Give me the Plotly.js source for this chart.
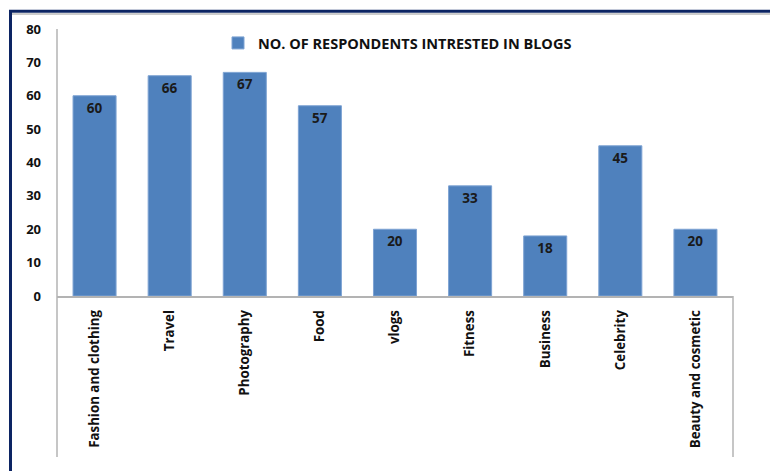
<!DOCTYPE html>
<html>
<head>
<meta charset="utf-8">
<script src="https://cdn.plot.ly/plotly-3.0.1.min.js"></script>
<style>
html,body{margin:0;padding:0;background:#fff;}
#chart{width:770px;height:471px;}
</style>
</head>
<body>
<div id="chart"></div>
<script>
const categories = ["Fashion and clothing","Travel","Photography","Food","vlogs","Fitness","Business","Celebrity","Beauty and cosmetic"];
const respondents = [60,66,67,57,20,33,18,45,20];
const seriesName = "NO. OF RESPONDENTS INTRESTED IN BLOGS";
const yTicks = [0,10,20,30,40,50,60,70,80];

const FONT = "'Open Sans', Lato, sans-serif";
const L = 57, R = 37, T = 29, B = 175, W = 770, H = 471;
const pw = W - L - R, ph = H - T - B;
const px = x => (x - L) / pw;
const py = y => (H - B - y) / ph;

const trace = {
  type: "bar",
  x: categories,
  y: respondents,
  name: seriesName,
  marker: {color: "#4f81bd", line: {color: "#7ea3d3", width: 1}},
  text: respondents.map(String),
  textposition: "inside",
  insidetextanchor: "end",
  textangle: 0,
  constraintext: "none",
  textfont: {family: FONT, size: 13.5, color: "#1a1a1a", weight: "bold"},
  hoverinfo: "x+y",
  showlegend: true
};

const layout = {
  width: W, height: H,
  margin: {l: L, r: R, t: T, b: B, pad: 0},
  paper_bgcolor: "#ffffff",
  plot_bgcolor: "#ffffff",
  font: {family: FONT, size: 13, color: "#111111", weight: "bold"},
  bargap: 0.427,
  showlegend: true,
  legend: {
    orientation: "h",
    x: px(218), xanchor: "left",
    y: py(43), yanchor: "middle",
    bgcolor: "rgba(0,0,0,0)",
    font: {family: FONT, size: 14.5, color: "#111111", weight: "bold"},
    itemwidth: 30
  },
  xaxis: {
    type: "category",
    tickangle: -90,
    showline: true, linecolor: "#b3b3b3", linewidth: 1.5,
    showgrid: false, zeroline: false,
    ticks: "", ticklabelstandoff: 7,
    tickfont: {family: FONT, size: 13.3, color: "#111111", weight: "bold"}
  },
  yaxis: {
    range: [0, 80],
    tickvals: yTicks,
    ticktext: yTicks.map(String),
    showline: false,
    showgrid: false, zeroline: false,
    ticks: "", ticklabelstandoff: 15,
    tickfont: {family: FONT, size: 13, color: "#111111", weight: "bold"}
  },
  shapes: [
    {type: "line", xref: "paper", yref: "paper", x0: px(10.5), x1: px(10.5), y0: py(11), y1: py(480), line: {color: "#0c2463", width: 3}},
    {type: "line", xref: "paper", yref: "paper", x0: px(9), x1: px(790), y0: py(11.3), y1: py(11.3), line: {color: "#0c2463", width: 3}},
    {type: "line", xref: "paper", yref: "paper", x0: px(12), x1: px(790), y0: py(14), y1: py(14), line: {color: "#9a9a9a", width: 1}},
    {type: "line", xref: "paper", yref: "paper", x0: 0, x1: 0, y0: 1, y1: py(457), line: {color: "#b3b3b3", width: 1.5}},
    {type: "line", xref: "paper", yref: "paper", x0: 1, x1: 1, y0: 0, y1: py(457), line: {color: "#b3b3b3", width: 1.5}}
  ]
};

Plotly.newPlot("chart", [trace], layout, {displayModeBar: false});
</script>
</body>
</html>
